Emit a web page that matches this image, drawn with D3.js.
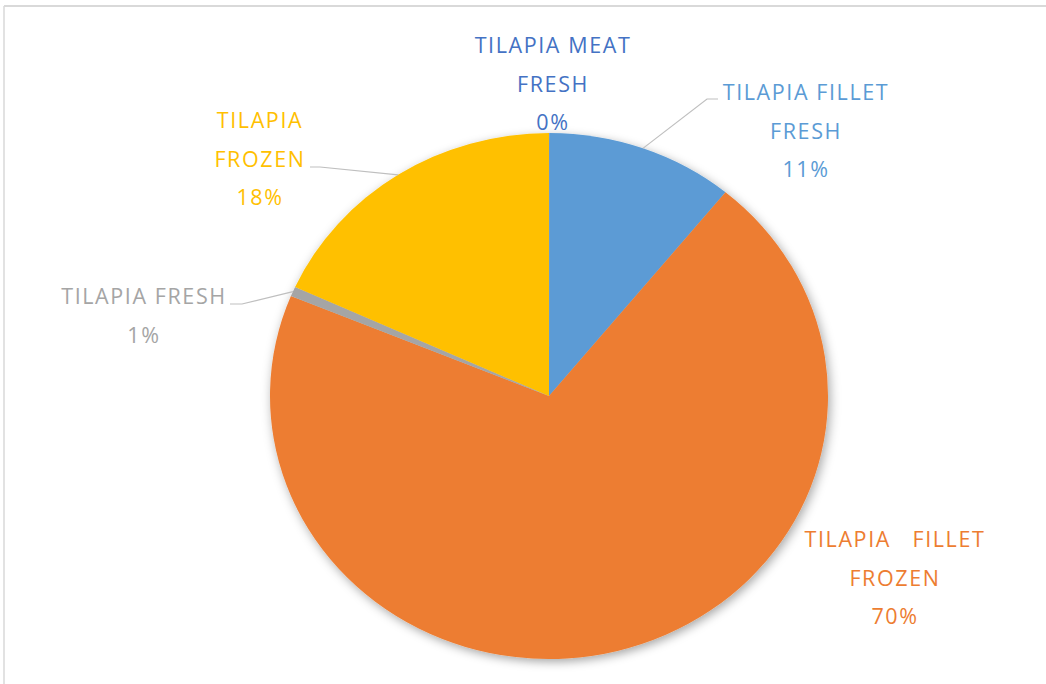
<!DOCTYPE html>
<html>
<head>
<meta charset="utf-8">
<script src="https://cdn.jsdelivr.net/npm/d3@7"></script>
<style>
  body { margin: 0; background: #fff; }
  svg { display: block; }
  .lbl { font-family: "Open Sans", sans-serif; font-size: 21.5px; letter-spacing: 1.6px; white-space: pre; }
</style>
</head>
<body>
<div id="chart"></div>
<script>
// data, clockwise from 12 o'clock
var categories = ["TILAPIA MEAT FRESH", "TILAPIA FILLET FRESH", "TILAPIA FILLET FROZEN", "TILAPIA FRESH", "TILAPIA FROZEN"];
var shares = [0.03, 10.87, 70.3, 0.6, 18.2];
var colors = ["#4472C4", "#5B9BD5", "#ED7D31", "#A5A5A5", "#FFC000"];
// how each label is wrapped
var labelText = [
  ["TILAPIA MEAT", "FRESH"],
  ["TILAPIA FILLET", "FRESH"],
  ["TILAPIA   FILLET", "FROZEN"],
  ["TILAPIA FRESH"],
  ["TILAPIA", "FROZEN"]
];

var W = 1046, H = 684;
var cx = 549, cy = 396, ry = 263, rx = 279;   // picture is a little stretched sideways

// label spot (centre x, first baseline) and leader elbow, per slice
var labelPos = [[553, 53], [806, 100], [895, 547], [144, 304], [260, 128]];
var lineSpacing = 38.5;
var leaders = [null, [[707, 99], [718, 99]], null, [[242, 304], [230, 304]], [[320, 167], [310, 167]]];

var svg = d3.select("#chart").append("svg")
  .attr("width", W).attr("height", H);

// frame lines (top and left only)
svg.append("line").attr("x1", 4).attr("x2", W).attr("y1", 6).attr("y2", 6)
  .attr("stroke", "#d9d9d9").attr("stroke-width", 2);
svg.append("line").attr("x1", 4).attr("x2", 4).attr("y1", 6).attr("y2", H)
  .attr("stroke", "#d9d9d9").attr("stroke-width", 1.5);

var defs = svg.append("defs");
var f = defs.append("filter").attr("id", "shadow")
  .attr("x", "-10%").attr("y", "-10%").attr("width", "120%").attr("height", "120%");
f.append("feDropShadow").attr("dx", 2).attr("dy", 3).attr("stdDeviation", 5)
  .attr("flood-color", "#000").attr("flood-opacity", 0.35);

var data = categories.map(function(c, i) { return {name: c, value: shares[i], i: i}; });

var pie = d3.pie().sort(null).value(function(d) { return d.value; });
var arcs = pie(data);
var arc = d3.arc().innerRadius(0).outerRadius(ry);

var g = svg.append("g")
  .attr("transform", "translate(" + cx + "," + cy + ") scale(" + (rx / ry) + ",1)");

g.append("g").attr("filter", "url(#shadow)")
  .selectAll("path")
  .data(arcs).enter()
  .append("path")
  .attr("d", arc)
  .attr("fill", function(d) { return colors[d.data.i]; });

// leader lines: from slice edge at its middle angle to the label
arcs.forEach(function(a) {
  var L = leaders[a.data.i];
  if (!L) return;
  var mid = (a.startAngle + a.endAngle) / 2;
  var p0 = [cx + rx * Math.sin(mid), cy - ry * Math.cos(mid)];
  svg.append("polyline")
    .attr("points", [p0].concat(L).map(function(p) { return p.join(","); }).join(" "))
    .attr("fill", "none")
    .attr("stroke", "#bfbfbf")
    .attr("stroke-width", 1.2);
});

// labels
arcs.forEach(function(a) {
  var i = a.data.i;
  var lines = labelText[i].concat([Math.round(a.data.value) + "%"]);
  var t = svg.append("text")
    .attr("class", "lbl")
    .attr("text-anchor", "middle")
    .attr("fill", colors[i]);
  lines.forEach(function(s, k) {
    t.append("tspan")
      .attr("x", labelPos[i][0])
      .attr("y", labelPos[i][1] + k * lineSpacing)
      .text(s);
  });
});
</script>
</body>
</html>
